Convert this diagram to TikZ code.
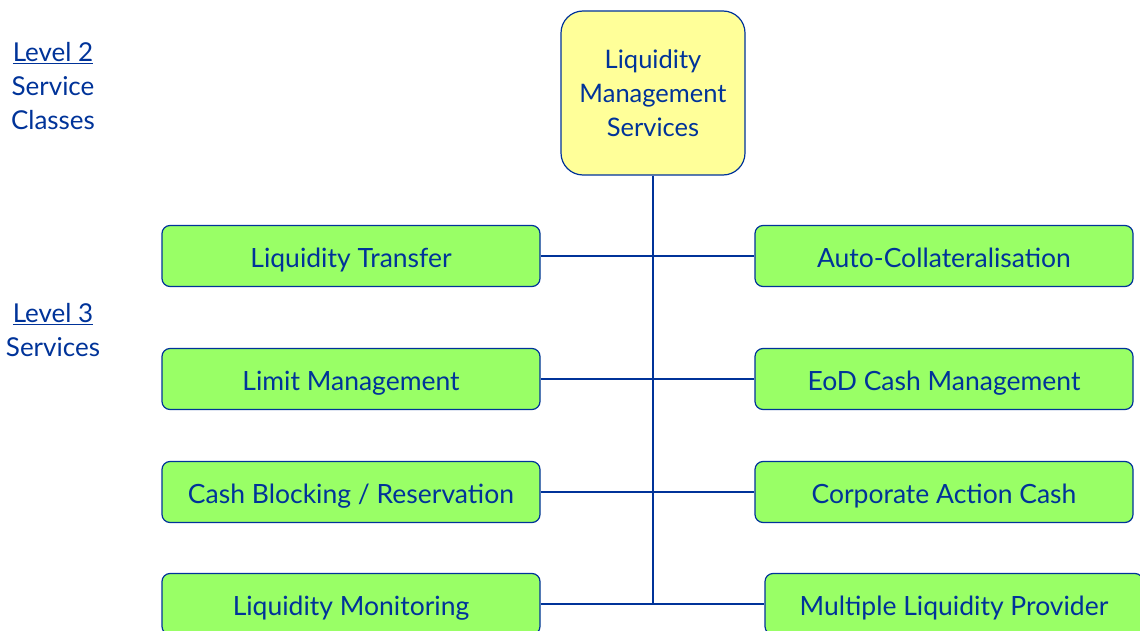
\documentclass[tikz,border=0pt]{standalone}
\usepackage{fontspec}
\setmainfont{Lato}
\usepackage{tikz}
\usetikzlibrary{positioning}
\definecolor{lmblue}{RGB}{0,51,153}
\definecolor{lmgreen}{RGB}{153,255,102}
\definecolor{lmyellow}{RGB}{255,255,153}

\tikzset{
  classbox/.style={draw=lmblue, line width=1.2pt, fill=lmyellow, rounded corners=22pt,
    minimum width=184pt, minimum height=164pt, align=center, text=lmblue,
    font=\fontsize{25.5}{34}\selectfont},
  servicebox/.style={draw=lmblue, line width=1.2pt, fill=lmgreen, rounded corners=8pt,
    minimum width=378pt, minimum height=61pt, text=lmblue,
    text height=28pt, text depth=5pt,
    font=\fontsize{26.5}{30}\selectfont},
  levellabel/.style={align=center, text=lmblue, font=\fontsize{26}{34}\selectfont},
  link/.style={draw=lmblue, line width=1.2pt}
}

\begin{document}
\begin{tikzpicture}[x=1pt, y=-1pt]
    \useasboundingbox (0,0) rectangle (1140,631);

    % Level 2 service class
    \node[classbox] (LMS) at (653,93) {Liquidity\\Management\\Services};

    % Level 3 services, left column
    \node[servicebox] (LT)  at (351,256) {Liquidity Transfer};
    \node[servicebox] (LM)  at (351,379) {Limit Management};
    \node[servicebox] (CBR) at (351,492) {Cash Blocking / Reservation};
    \node[servicebox] (LMo) at (351,604) {Liquidity Monitoring};

    % Level 3 services, right column
    \node[servicebox] (AC)  at (944,256) {Auto-Collateralisation};
    \node[servicebox] (ECM) at (944,379) {EoD Cash Management};
    \node[servicebox] (CAC) at (944,492) {Corporate Action Cash};
    \node[servicebox] (MLP) at (954,604) {Multiple Liquidity Provider};

    % Trunk line
    \coordinate (Trunk) at (LMS.south |- LMo.east);
    \draw[link] (LMS.south) -- (Trunk);

    % Branches
    \draw[link] (LT.east) -- (AC.west);
    \draw[link] (LM.east) -- (ECM.west);
    \draw[link] (CBR.east) -- (CAC.west);
    \draw[link] (LMo.east) -- (MLP.west);

    % Level labels
    \node[levellabel] (Lvl2) at (53,86) {\underline{Level 2}\\Service\\Classes};
    \node[levellabel] (Lvl3) at (53,330) {\underline{Level 3}\\Services};

\end{tikzpicture}
\end{document}
